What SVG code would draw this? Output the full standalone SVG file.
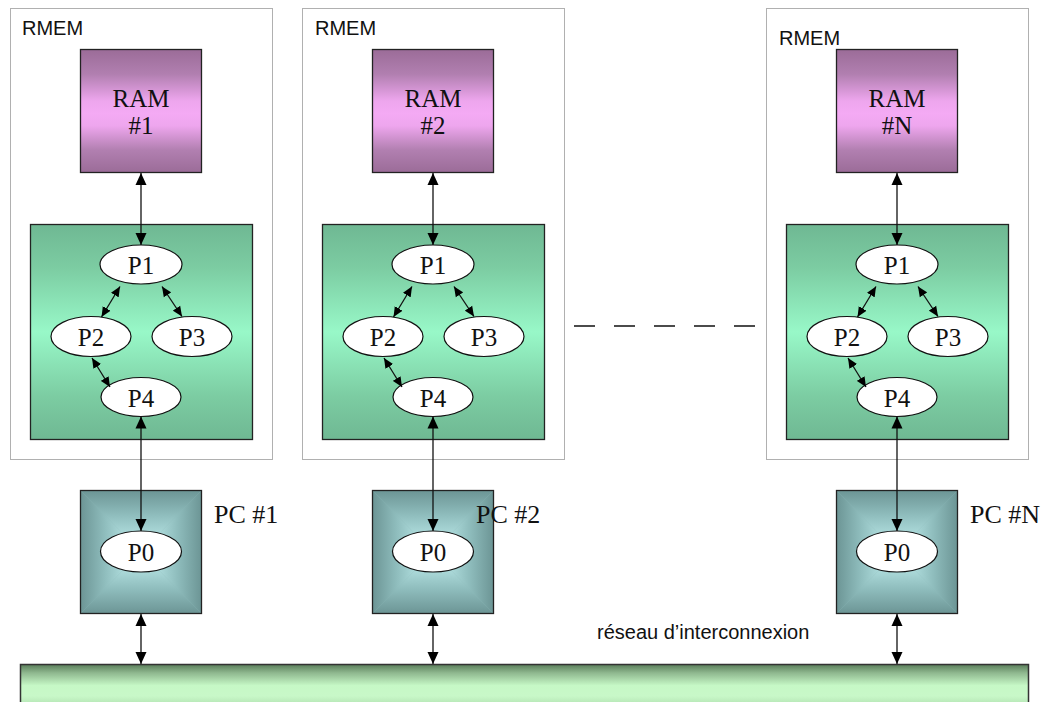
<svg xmlns="http://www.w3.org/2000/svg" width="1043" height="702" viewBox="0 0 1043 702">
<defs>
<style>
.rmem{fill:#ffffff;stroke:#b0b0b0;stroke-width:1}
.ram{fill:url(#gRam);stroke:#222;stroke-width:1.3}
.grn{fill:url(#gGrn);stroke:#222;stroke-width:1.3}
.pcb{fill:none;stroke:#222;stroke-width:1.3}
.ell{fill:#ffffff;stroke:#111;stroke-width:1.2}
.tt{font-family:"Liberation Serif","Times New Roman",serif;font-size:25px;fill:#111;text-anchor:middle}
.tl{font-family:"Liberation Serif","Times New Roman",serif;font-size:26px;fill:#111}
.sa{font-family:"Liberation Sans",Arial,sans-serif;font-size:20px;fill:#111}
.ar{stroke:#111;stroke-width:1.3;fill:none;marker-start:url(#ah);marker-end:url(#ah)}
.sm{stroke:#111;stroke-width:1.3;fill:none;marker-start:url(#ahs);marker-end:url(#ahs)}
</style>
<linearGradient id="gRam" x1="0" y1="0" x2="0" y2="1">
<stop offset="0" stop-color="#9b6c98"/>
<stop offset="0.2" stop-color="#b17fb0"/>
<stop offset="0.42" stop-color="#eea6ee"/>
<stop offset="0.52" stop-color="#f4aaf4"/>
<stop offset="0.62" stop-color="#eea6ee"/>
<stop offset="0.82" stop-color="#b17fb0"/>
<stop offset="1" stop-color="#9b6c98"/>
</linearGradient>
<linearGradient id="gGrn" x1="0" y1="0" x2="0" y2="1">
<stop offset="0" stop-color="#6fb893"/>
<stop offset="0.2" stop-color="#7ccca2"/>
<stop offset="0.5" stop-color="#98f8c8"/>
<stop offset="0.8" stop-color="#7ccca2"/>
<stop offset="1" stop-color="#6fb893"/>
</linearGradient>
<linearGradient id="gBus" x1="0" y1="0" x2="0" y2="1">
<stop offset="0" stop-color="#5a7e5a"/>
<stop offset="0.2" stop-color="#8fb88f"/>
<stop offset="0.5" stop-color="#c6f8c6"/>
<stop offset="0.75" stop-color="#c8f8c8"/>
<stop offset="1" stop-color="#b0e0b0"/>
</linearGradient>
<linearGradient id="pT" x1="0" y1="0" x2="0" y2="1">
<stop offset="0" stop-color="#6c9595"/>
<stop offset="0.4" stop-color="#8fbdbd"/>
<stop offset="1" stop-color="#c8f6f6"/>
</linearGradient>
<linearGradient id="pB" x1="0" y1="1" x2="0" y2="0">
<stop offset="0" stop-color="#6c9595"/>
<stop offset="0.4" stop-color="#8fbdbd"/>
<stop offset="1" stop-color="#c8f6f6"/>
</linearGradient>
<linearGradient id="pL" x1="0" y1="0" x2="1" y2="0">
<stop offset="0" stop-color="#6c9595"/>
<stop offset="0.4" stop-color="#8fbdbd"/>
<stop offset="1" stop-color="#c8f6f6"/>
</linearGradient>
<linearGradient id="pR" x1="1" y1="0" x2="0" y2="0">
<stop offset="0" stop-color="#6c9595"/>
<stop offset="0.4" stop-color="#8fbdbd"/>
<stop offset="1" stop-color="#c8f6f6"/>
</linearGradient>
<marker id="ah" markerUnits="userSpaceOnUse" markerWidth="12" markerHeight="12" refX="12" refY="6" orient="auto-start-reverse">
<path d="M0,0.5 L12,6 L0,11.5 z" fill="#000"/>
</marker>
<marker id="ahs" markerUnits="userSpaceOnUse" markerWidth="10" markerHeight="10" refX="10" refY="5" orient="auto-start-reverse">
<path d="M0,0.5 L10,5 L0,9.5 z" fill="#000"/>
</marker>
<g id="pcShape">
<rect x="0" y="0" width="121" height="123" fill="#8ab6b6"/>
<polygon points="0,0 121,0 60.5,61.5" fill="url(#pT)"/>
<polygon points="0,123 121,123 60.5,61.5" fill="url(#pB)"/>
<polygon points="0,0 0,123 60.5,61.5" fill="url(#pL)"/>
<polygon points="121,0 121,123 60.5,61.5" fill="url(#pR)"/>
<rect x="0" y="0" width="121" height="123" class="pcb"/>
</g>
</defs>

<rect width="1043" height="702" fill="#ffffff"/>

<!-- Column 1 -->
<g id="rmem1">
<rect class="rmem" x="10.5" y="8.5" width="262" height="451"/>
<text class="sa" x="22" y="35">RMEM</text>
</g>
<g id="ram1">
<rect class="ram" x="80.5" y="49.5" width="121" height="123"/>
<text class="tt" x="141" y="107">RAM</text>
<text class="tt" x="141" y="134">#1</text>
</g>
<g id="proc1">
<rect class="grn" x="30.5" y="224.5" width="222" height="215"/>
</g>
<g id="p1_1"><ellipse class="ell" cx="141" cy="264.5" rx="41" ry="19.5"/><text class="tt" x="141" y="274">P1</text></g>
<g id="p2_1"><ellipse class="ell" cx="91" cy="336.5" rx="40" ry="20"/><text class="tt" x="91" y="346">P2</text></g>
<g id="p3_1"><ellipse class="ell" cx="192" cy="336.5" rx="40" ry="20"/><text class="tt" x="192" y="346">P3</text></g>
<g id="p4_1"><ellipse class="ell" cx="141" cy="397" rx="40" ry="19.5"/><text class="tt" x="141" y="406.5">P4</text></g>
<g id="pc1">
<use href="#pcShape" x="80.5" y="490.5"/>
<text class="tl" x="214" y="523">PC #1</text>
</g>
<g id="p0_1"><ellipse class="ell" cx="141" cy="551.5" rx="40.5" ry="20.5"/><text class="tt" x="141" y="561">P0</text></g>

<!-- Column 2 -->
<g id="rmem2">
<rect class="rmem" x="302.5" y="8.5" width="262" height="451"/>
<text class="sa" x="315" y="35">RMEM</text>
</g>
<g id="ram2">
<rect class="ram" x="372.5" y="49.5" width="121" height="123"/>
<text class="tt" x="433" y="107">RAM</text>
<text class="tt" x="433" y="134">#2</text>
</g>
<g id="proc2">
<rect class="grn" x="322.5" y="224.5" width="222" height="215"/>
</g>
<g id="p1_2"><ellipse class="ell" cx="433" cy="264.5" rx="41" ry="19.5"/><text class="tt" x="433" y="274">P1</text></g>
<g id="p2_2"><ellipse class="ell" cx="383" cy="336.5" rx="40" ry="20"/><text class="tt" x="383" y="346">P2</text></g>
<g id="p3_2"><ellipse class="ell" cx="484" cy="336.5" rx="40" ry="20"/><text class="tt" x="484" y="346">P3</text></g>
<g id="p4_2"><ellipse class="ell" cx="433" cy="397" rx="40" ry="19.5"/><text class="tt" x="433" y="406.5">P4</text></g>
<g id="pc2">
<use href="#pcShape" x="372.5" y="490.5"/>
<text class="tl" x="476" y="523">PC #2</text>
</g>
<g id="p0_2"><ellipse class="ell" cx="433" cy="551.5" rx="40.5" ry="20.5"/><text class="tt" x="433" y="561">P0</text></g>

<!-- Column 3 -->
<g id="rmem3">
<rect class="rmem" x="766.5" y="8.5" width="262" height="451"/>
<text class="sa" x="779" y="45">RMEM</text>
</g>
<g id="ramN">
<rect class="ram" x="836.5" y="49.5" width="121" height="123"/>
<text class="tt" x="897" y="107">RAM</text>
<text class="tt" x="897" y="134">#N</text>
</g>
<g id="procN">
<rect class="grn" x="786.5" y="224.5" width="222" height="215"/>
</g>
<g id="p1_N"><ellipse class="ell" cx="897" cy="264.5" rx="41" ry="19.5"/><text class="tt" x="897" y="274">P1</text></g>
<g id="p2_N"><ellipse class="ell" cx="847" cy="336.5" rx="40" ry="20"/><text class="tt" x="847" y="346">P2</text></g>
<g id="p3_N"><ellipse class="ell" cx="948" cy="336.5" rx="40" ry="20"/><text class="tt" x="948" y="346">P3</text></g>
<g id="p4_N"><ellipse class="ell" cx="897" cy="397" rx="40" ry="19.5"/><text class="tt" x="897" y="406.5">P4</text></g>
<g id="pcN">
<use href="#pcShape" x="836.5" y="490.5"/>
<text class="tl" x="970" y="523">PC #N</text>
</g>
<g id="p0_N"><ellipse class="ell" cx="897" cy="551.5" rx="40.5" ry="20.5"/><text class="tt" x="897" y="561">P0</text></g>

<!-- Bus -->
<g id="bus">
<rect x="20.5" y="664.5" width="1008" height="42" fill="url(#gBus)" stroke="#333" stroke-width="1.5"/>
<text class="sa" x="597" y="639">réseau d’interconnexion</text>
</g>

<!-- Connectors -->
<g id="connectors">
<line class="ar" x1="141" y1="173" x2="141" y2="245"/>
<line class="sm" x1="120" y1="286.5" x2="101.5" y2="317"/>
<line class="sm" x1="162" y1="286.5" x2="182" y2="316.5"/>
<line class="sm" x1="92" y1="358" x2="110" y2="387"/>
<line class="ar" x1="141" y1="416.5" x2="141" y2="531"/>
<line class="ar" x1="141" y1="614" x2="141" y2="664"/>

<line class="ar" x1="433" y1="173" x2="433" y2="245"/>
<line class="sm" x1="412" y1="286.5" x2="393.5" y2="317"/>
<line class="sm" x1="454" y1="286.5" x2="474" y2="316.5"/>
<line class="sm" x1="384" y1="358" x2="402" y2="387"/>
<line class="ar" x1="433" y1="416.5" x2="433" y2="531"/>
<line class="ar" x1="433" y1="614" x2="433" y2="664"/>

<line class="ar" x1="897" y1="173" x2="897" y2="245"/>
<line class="sm" x1="876" y1="286.5" x2="857.5" y2="317"/>
<line class="sm" x1="918" y1="286.5" x2="938" y2="316.5"/>
<line class="sm" x1="848" y1="358" x2="866" y2="387"/>
<line class="ar" x1="897" y1="416.5" x2="897" y2="531"/>
<line class="ar" x1="897" y1="614" x2="897" y2="664"/>

<line x1="574" y1="326" x2="757" y2="326" stroke="#111" stroke-width="1.3" stroke-dasharray="21 19"/>
</g>
</svg>
